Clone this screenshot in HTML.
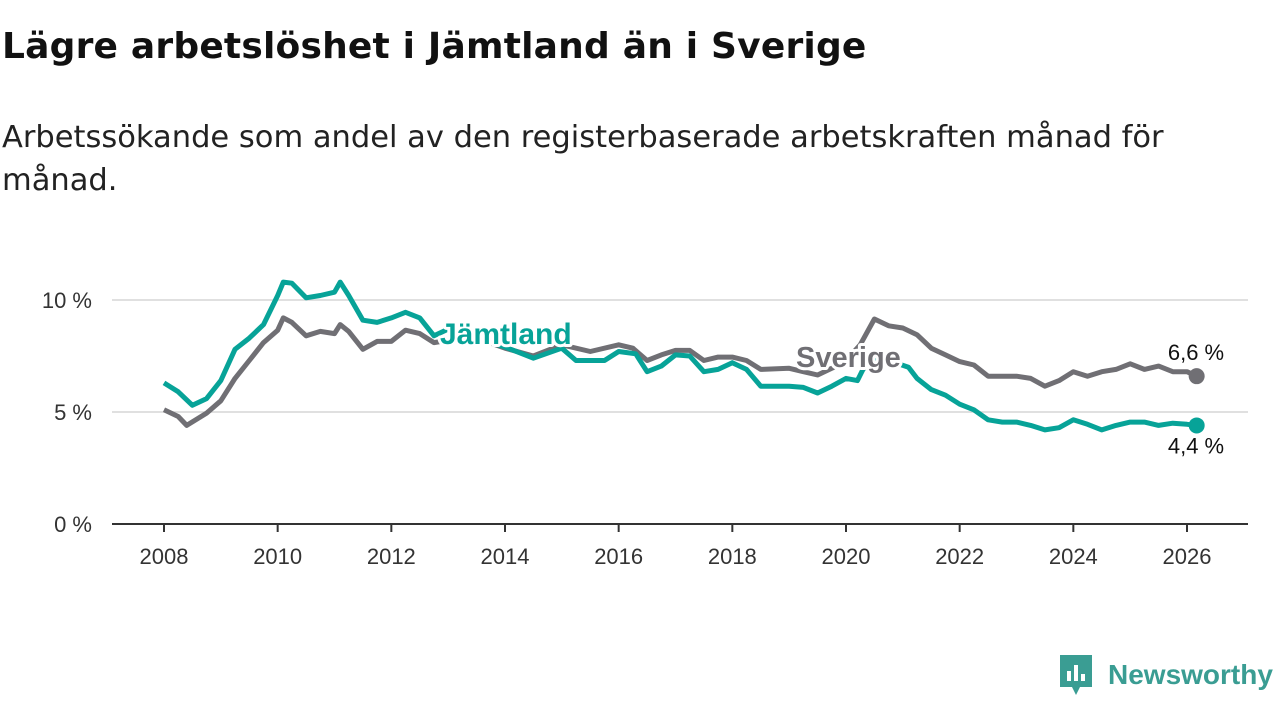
<!DOCTYPE html>
<html><head><meta charset="utf-8"><style>
body{margin:0;width:1280px;height:720px;background:#fff;font-family:"Liberation Sans","DejaVu Sans",sans-serif;overflow:hidden;position:relative}
h1{position:absolute;left:2px;top:26px;margin:0;font-family:"DejaVu Sans",sans-serif;font-size:36px;font-weight:bold;color:#111;letter-spacing:0.2px}
.sub{position:absolute;left:2px;top:116px;width:1200px;margin:0;font-family:"DejaVu Sans",sans-serif;font-size:30.5px;line-height:43px;color:#222}
svg{position:absolute;left:0;top:0}
</style></head><body>
<h1>Lägre arbetslöshet i Jämtland än i Sverige</h1>
<p class="sub">Arbetssökande som andel av den registerbaserade arbetskraften månad för månad.</p>
<svg id="c" width="1280" height="720"></svg>
<script>
const yTicks=[0,5,10];
const yTickLabels=["0 %","5 %","10 %"];
const xTicks=[2008,2010,2012,2014,2016,2018,2020,2022,2024,2026];
const jamtDates=[2008,2008.25,2008.5,2008.75,2009,2009.25,2009.5,2009.75,2010,2010.1,2010.25,2010.5,2010.75,2011,2011.1,2011.25,2011.5,2011.75,2012,2012.25,2012.5,2012.75,2013,2013.5,2014,2014.5,2015,2015.25,2015.75,2016,2016.3,2016.5,2016.75,2017,2017.25,2017.5,2017.75,2018,2018.25,2018.5,2019,2019.25,2019.5,2019.75,2020,2020.2,2020.3,2020.5,2020.75,2021.1,2021.25,2021.5,2021.75,2022,2022.25,2022.5,2022.75,2023,2023.25,2023.5,2023.75,2024,2024.25,2024.5,2024.75,2025,2025.25,2025.5,2025.75,2026,2026.17];
const jamtValues=[6.3,5.9,5.3,5.6,6.4,7.8,8.3,8.9,10.2,10.8,10.75,10.1,10.2,10.35,10.8,10.2,9.1,9.0,9.2,9.45,9.2,8.4,8.7,8.3,7.9,7.4,7.85,7.3,7.3,7.7,7.6,6.8,7.05,7.55,7.5,6.8,6.9,7.2,6.9,6.15,6.15,6.1,5.85,6.15,6.5,6.4,6.9,7.4,7.3,7.0,6.5,6.0,5.75,5.35,5.1,4.65,4.55,4.55,4.4,4.2,4.3,4.65,4.45,4.2,4.4,4.55,4.55,4.4,4.5,4.45,4.4];
const sveDates=[2008,2008.25,2008.4,2008.75,2009,2009.25,2009.5,2009.75,2010,2010.1,2010.25,2010.5,2010.75,2011,2011.1,2011.25,2011.5,2011.75,2012,2012.25,2012.5,2012.75,2013,2013.5,2014,2014.5,2015,2015.5,2016,2016.25,2016.5,2016.75,2017,2017.25,2017.5,2017.75,2018,2018.25,2018.5,2019,2019.25,2019.5,2019.75,2020,2020.25,2020.5,2020.75,2021,2021.25,2021.5,2021.75,2022,2022.25,2022.5,2023,2023.25,2023.5,2023.75,2024,2024.25,2024.5,2024.75,2025,2025.25,2025.5,2025.75,2026,2026.17];
const sveValues=[5.1,4.8,4.4,4.95,5.5,6.5,7.3,8.1,8.65,9.2,9.0,8.4,8.6,8.5,8.9,8.6,7.8,8.15,8.15,8.65,8.5,8.1,8.2,8.3,7.85,7.5,8.0,7.7,8.0,7.85,7.3,7.55,7.75,7.75,7.3,7.45,7.45,7.3,6.9,6.95,6.8,6.65,6.95,7.3,8.0,9.15,8.85,8.75,8.45,7.85,7.55,7.25,7.1,6.6,6.6,6.5,6.15,6.4,6.8,6.6,6.8,6.9,7.15,6.9,7.05,6.8,6.8,6.6];
const NS="http://www.w3.org/2000/svg",svg=document.getElementById('c');
const X=d=>164+(d-2008)*(1187-164)/18, Y=v=>524-v*22.4;
function mk(t,a,p){const e=document.createElementNS(NS,t);for(const k in a)e.setAttribute(k,a[k]);(p||svg).appendChild(e);return e;}
yTicks.forEach((t,i)=>{
 const l=mk('line',{x1:112,x2:1248,y1:Y(t),y2:Y(t),stroke:t==0?'#333':'#d6d6d6','stroke-width':t==0?2:1.5});
 
 
 const tx=mk('text',{x:92,y:Y(t)+8,'text-anchor':'end','font-size':22,fill:'#333'});tx.textContent=yTickLabels[i];
 
 
});
xTicks.forEach(t=>{
 const l=mk('line',{x1:X(t),x2:X(t),y1:524,y2:532,stroke:'#333','stroke-width':2});
 
 
 const tx=mk('text',{x:X(t),y:564,'text-anchor':'middle','font-size':22,fill:'#333'});tx.textContent=t;
 
 
});
function line(d,v,c,name){
 const p=mk('path',{d:d.map((x,i)=>(i?'L':'M')+X(x).toFixed(1)+','+Y(v[i]).toFixed(1)).join(''),fill:'none',stroke:c,'stroke-width':5,'stroke-linejoin':'round'});
 
 
 const n=d.length-1;
 const c2=mk('circle',{cx:X(d[n]),cy:Y(v[n]),r:8,fill:c});
 
 
}
line(sveDates,sveValues,'#706f74','sverige');
line(jamtDates,jamtValues,'#07a398','jamtland');
function lab(t,x,y,c,fs,w,name,anchor,ff,sw){
 const e=mk('text',{x:x,y:y,fill:c,'font-size':fs,'font-weight':w,stroke:'#fff','stroke-width':sw||6,'paint-order':'stroke','stroke-linejoin':'round','text-anchor':anchor||'start','font-family':ff||'Liberation Sans, sans-serif'});e.textContent=t;
 
 
}
lab('Jämtland',440,344,'#07a398',30,'bold','jamtland-label','DejaVu Sans, sans-serif',8);
lab('Sverige',796,367,'#706f74',29,'bold','sverige-label','DejaVu Sans, sans-serif',14);
const ns=sveValues.length-1,nj=jamtValues.length-1;
lab(sveValues[ns].toFixed(1).replace('.',',')+' %',1196,Y(sveValues[ns])-16,'#111',22,'normal','sverige-end-label','middle');
lab(jamtValues[nj].toFixed(1).replace('.',',')+' %',1196,Y(jamtValues[nj])+28,'#111',22,'normal','jamtland-end-label','middle');
</script>
<div style="position:absolute;left:1060px;top:655px;display:flex;align-items:center">
<svg width="32" height="40" style="position:static"><path d="M0 0H32V32H20L16 40L12 32H0Z" fill="#3a9d93"/><rect x="7" y="16" width="4" height="10" fill="#fff"/><rect x="14" y="10" width="4" height="16" fill="#fff"/><rect x="21" y="19" width="4" height="7" fill="#fff"/></svg>
<span style="margin-left:16px;font-family:'Liberation Sans',sans-serif;font-size:28px;color:#3a9d93;font-weight:bold">Newsworthy</span></div>
</body></html>
